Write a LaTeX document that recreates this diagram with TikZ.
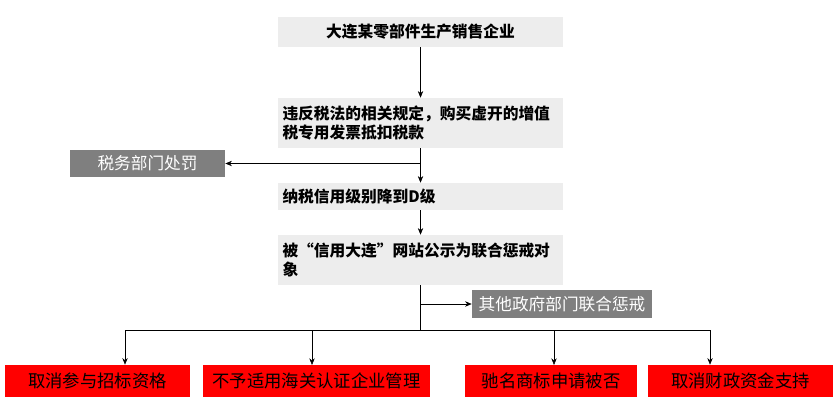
\documentclass[tikz,border=0pt]{standalone}
\usepackage{fontspec}
\setmainfont{Noto Sans CJK SC}
\usetikzlibrary{arrows.meta}
\definecolor{lg}{HTML}{EDEDED}
\definecolor{dg}{HTML}{7F7F7F}
\definecolor{rd}{HTML}{FF0000}
\begin{document}
\begin{tikzpicture}[x=0.75pt,y=-0.75pt,
  lbox/.style={fill=lg,draw=none,font=\fontsize{11.8}{14.5}\selectfont\bfseries,inner sep=2pt},
  dbox/.style={fill=dg,draw=none,text=white,font=\fontsize{12.5}{15}\selectfont},
  rbox/.style={fill=rd,draw=none,text=black,font=\fontsize{13}{15}\selectfont},
  arr/.style={-{Stealth[length=5pt,width=4pt]},thin,black},
  ln/.style={thin,black}]
\useasboundingbox (0,0) rectangle (838,413);
\node[lbox,minimum width=285*0.75pt,minimum height=30*0.75pt] (a) at (420.5,32) {大连某零部件生产销售企业};
\node[lbox,minimum width=285*0.75pt,minimum height=50*0.75pt,align=left,text width=276*0.75pt] (b) at (420.5,123) {违反税法的相关规定，购买虚开的增值\\税专用发票抵扣税款};
\node[dbox,minimum width=155*0.75pt,minimum height=27*0.75pt] (l) at (147.5,163.5) {税务部门处罚};
\node[lbox,minimum width=285*0.75pt,minimum height=27*0.75pt,align=left,text width=276*0.75pt] (c) at (420.5,196.5) {纳税信用级别降到D级};
\node[lbox,minimum width=285*0.75pt,minimum height=50*0.75pt,align=left,text width=276*0.75pt] (d) at (420.5,260) {被“信用大连”网站公示为联合惩戒对\\象};
\node[dbox,minimum width=180*0.75pt,minimum height=28*0.75pt] (r) at (562,304) {其他政府部门联合惩戒};
\node[rbox,minimum width=185*0.75pt,minimum height=32*0.75pt] (r1) at (97.5,381) {取消参与招标资格};
\node[rbox,minimum width=227*0.75pt,minimum height=32*0.75pt] (r2) at (316.5,381) {不予适用海关认证企业管理};
\node[rbox,minimum width=172*0.75pt,minimum height=32*0.75pt] (r3) at (551,381) {驰名商标申请被否};
\node[rbox,minimum width=185*0.75pt,minimum height=32*0.75pt] (r4) at (740.5,381) {取消财政资金支持};
\coordinate (m1) at (420.5,163.5);
\coordinate (m2) at (420.5,304);
\coordinate (h) at (420.5,330);
\coordinate (hl) at (125,330);
\coordinate (hr) at (710,330);
\draw[arr] (a) -- (b);
\draw[arr] (b) -- (c);
\draw[arr] (m1) -- (l);
\draw[arr] (c) -- (d);
\draw[ln] (d) -- (h);
\draw[arr] (m2) -- (r);
\draw[ln] (hl) -- (hr);
\draw[arr] (hl) -- (hl|-r1.north);
\draw[arr] (312,330) -- (312,365);
\draw[arr] (554,330) -- (554,365);
\draw[arr] (hr) -- (hr|-r4.north);
\end{tikzpicture}
\end{document}
